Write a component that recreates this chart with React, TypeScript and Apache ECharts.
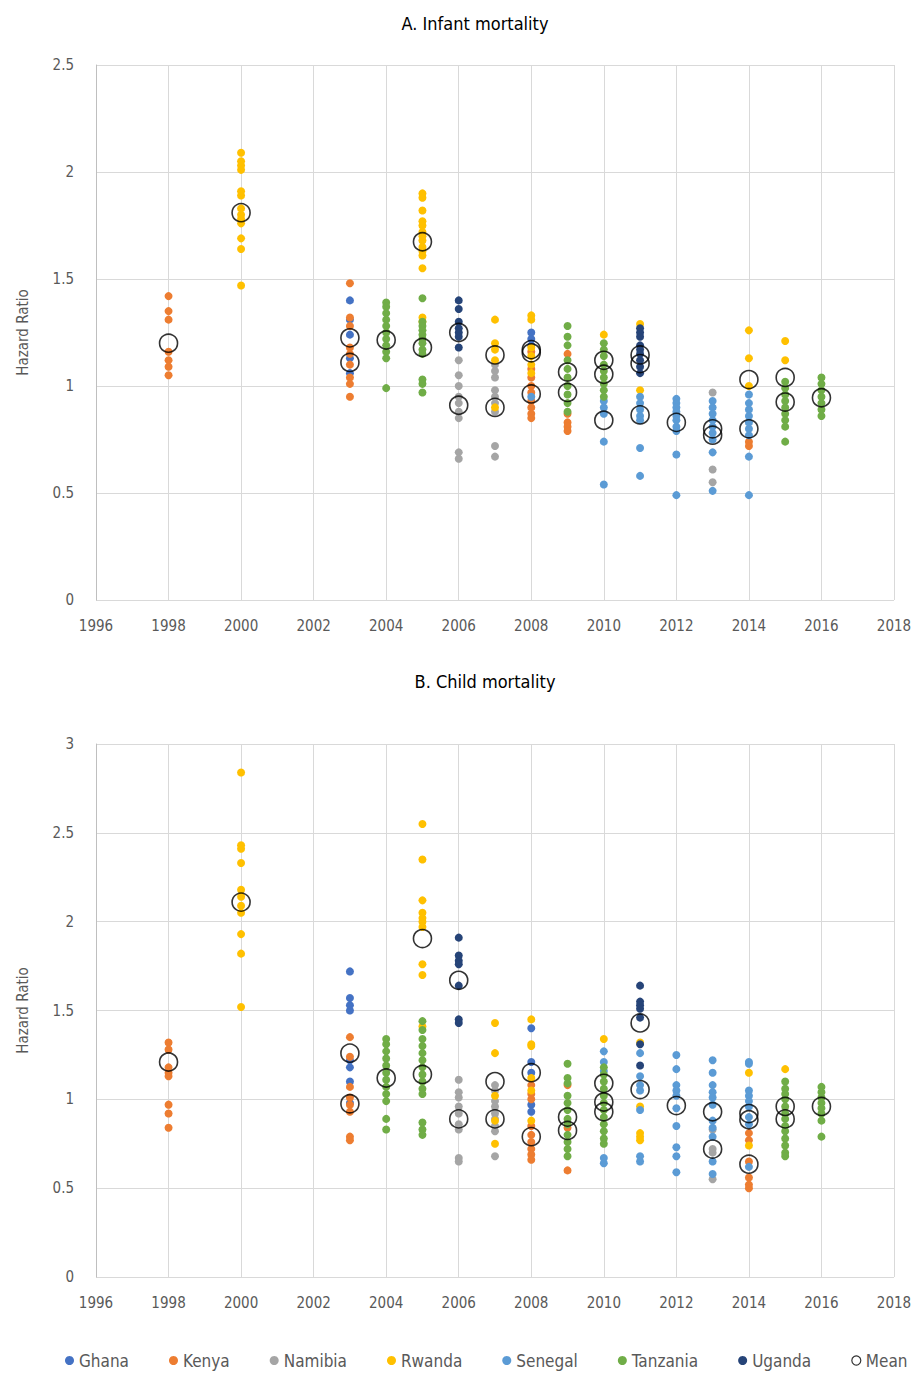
import React, { useEffect, useRef } from "react";
import * as echarts from "echarts";

type Col = [number, number[]][];

const countries = ["Ghana", "Kenya", "Namibia", "Rwanda", "Senegal", "Tanzania", "Uganda"];
const colors = ["#4472C4", "#ED7D31", "#A5A5A5", "#FFC000", "#5B9BD5", "#70AD47", "#264478"];
const yearTicks = [1996, 1998, 2000, 2002, 2004, 2006, 2008, 2010, 2012, 2014, 2016, 2018];

// Panel A: Infant mortality
const ghanaA: Col = [[2003, [1.40, 1.31, 1.24, 1.13, 1.06]], [2008, [1.25, 1.22, 1.19]]];
const kenyaA: Col = [
  [1998, [1.42, 1.35, 1.31, 1.16, 1.12, 1.09, 1.05]],
  [2003, [1.48, 1.32, 1.28, 1.18, 1.15, 1.10, 1.04, 1.01, 0.95]],
  [2008, [1.16, 1.08, 1.04, 1.00, 0.97, 0.93, 0.90, 0.87, 0.85]],
  [2009, [1.15, 0.87, 0.83, 0.81, 0.79]],
  [2014, [0.74, 0.72]],
];
const namibiaA: Col = [
  [2006, [1.12, 1.05, 1.00, 0.95, 0.92, 0.88, 0.85, 0.69, 0.66]],
  [2007, [1.10, 1.07, 1.04, 0.98, 0.95, 0.92, 0.88, 0.72, 0.67]],
  [2013, [0.97, 0.61, 0.55]],
];
const rwandaA: Col = [
  [2000, [2.09, 2.05, 2.03, 2.01, 1.91, 1.89, 1.83, 1.80, 1.78, 1.76, 1.69, 1.64, 1.47]],
  [2005, [1.90, 1.88, 1.82, 1.77, 1.75, 1.72, 1.70, 1.68, 1.65, 1.63, 1.61, 1.55, 1.32, 1.30]],
  [2007, [1.31, 1.20, 1.17, 1.12, 0.90]],
  [2008, [1.33, 1.31, 1.18, 1.14, 1.10, 1.06]],
  [2010, [1.24]],
  [2011, [1.29, 0.98]],
  [2014, [1.26, 1.13, 1.00]],
  [2015, [1.21, 1.12]],
];
const senegalA: Col = [
  [2008, [0.95]],
  [2010, [0.93, 0.90, 0.87, 0.74, 0.54]],
  [2011, [0.95, 0.92, 0.89, 0.86, 0.84, 0.71, 0.58]],
  [2012, [0.94, 0.92, 0.90, 0.88, 0.86, 0.84, 0.81, 0.79, 0.68, 0.49]],
  [2013, [0.93, 0.90, 0.87, 0.84, 0.81, 0.78, 0.75, 0.69, 0.51]],
  [2014, [0.96, 0.92, 0.89, 0.86, 0.83, 0.80, 0.77, 0.67, 0.49]],
];
const tanzaniaA: Col = [
  [2004, [1.39, 1.37, 1.34, 1.31, 1.28, 1.25, 1.22, 1.19, 1.16, 1.13, 0.99]],
  [2005, [1.41, 1.30, 1.28, 1.26, 1.24, 1.22, 1.20, 1.17, 1.15, 1.03, 1.01, 0.97]],
  [2009, [1.28, 1.23, 1.19, 1.12, 1.08, 1.04, 1.00, 0.96, 0.92, 0.88]],
  [2010, [1.20, 1.17, 1.14, 1.10, 1.07, 1.04, 1.01, 0.98, 0.95]],
  [2015, [1.02, 0.99, 0.96, 0.93, 0.90, 0.87, 0.84, 0.81, 0.74]],
  [2016, [1.04, 1.01, 0.98, 0.95, 0.92, 0.89, 0.86]],
];
const ugandaA: Col = [
  [2006, [1.40, 1.36, 1.30, 1.27, 1.25, 1.23, 1.18]],
  [2011, [1.27, 1.25, 1.23, 1.19, 1.17, 1.15, 1.12, 1.09, 1.06]],
];
const meanA: Col = [
  [1998, [1.20]], [2000, [1.81]], [2003, [1.225, 1.11]], [2004, [1.215]],
  [2005, [1.674, 1.18]], [2006, [1.25, 0.91]], [2007, [1.145, 0.90]],
  [2008, [1.17, 1.155, 0.963]], [2009, [1.065, 0.97]], [2010, [1.12, 1.055, 0.84]],
  [2011, [1.145, 1.105, 0.865]], [2012, [0.83]], [2013, [0.80, 0.77]],
  [2014, [1.03, 0.80]], [2015, [1.04, 0.925]], [2016, [0.945]],
];

// Panel B: Child mortality
const ghanaB: Col = [
  [2003, [1.72, 1.57, 1.53, 1.50, 1.22, 1.18, 1.10, 0.98]],
  [2008, [1.40, 1.21, 1.15, 0.97, 0.93]],
];
const kenyaB: Col = [
  [1998, [1.32, 1.28, 1.18, 1.15, 1.13, 0.97, 0.92, 0.84]],
  [2003, [1.35, 1.24, 1.07, 1.01, 0.97, 0.93, 0.79, 0.77]],
  [2008, [1.08, 1.03, 1.00, 0.85, 0.80, 0.76, 0.72, 0.69, 0.66]],
  [2009, [1.08, 0.84, 0.60]],
  [2014, [0.81, 0.77, 0.65, 0.56, 0.52, 0.50]],
];
const namibiaB: Col = [
  [2006, [1.11, 1.04, 1.01, 0.96, 0.92, 0.86, 0.83, 0.67, 0.65]],
  [2007, [1.08, 1.05, 0.99, 0.96, 0.92, 0.89, 0.85, 0.82, 0.68]],
  [2013, [0.83, 0.72, 0.70, 0.55]],
];
const rwandaB: Col = [
  [2000, [2.84, 2.43, 2.41, 2.33, 2.18, 2.14, 2.09, 2.05, 1.93, 1.82, 1.52]],
  [2005, [2.55, 2.35, 2.12, 2.05, 2.02, 2.00, 1.97, 1.76, 1.70, 1.41]],
  [2007, [1.43, 1.26, 1.02, 0.88, 0.75]],
  [2008, [1.45, 1.31, 1.30, 1.12, 1.05, 0.88]],
  [2010, [1.34]],
  [2011, [1.32, 0.96, 0.81, 0.79, 0.77]],
  [2014, [1.15, 0.74]],
  [2015, [1.17]],
];
const senegalB: Col = [
  [2010, [1.27, 1.21, 1.16, 0.67, 0.64]],
  [2011, [1.26, 1.13, 1.08, 1.05, 0.94, 0.68, 0.65]],
  [2012, [1.25, 1.17, 1.08, 1.05, 1.02, 0.95, 0.85, 0.73, 0.68, 0.59]],
  [2013, [1.22, 1.15, 1.08, 1.04, 1.01, 0.97, 0.88, 0.84, 0.79, 0.65, 0.58]],
  [2014, [1.21, 1.20, 1.05, 1.02, 0.99, 0.96, 0.90, 0.86, 0.62]],
];
const tanzaniaB: Col = [
  [2004, [1.34, 1.31, 1.27, 1.23, 1.19, 1.15, 1.11, 1.07, 1.03, 0.99, 0.89, 0.83]],
  [2005, [1.44, 1.39, 1.34, 1.30, 1.26, 1.22, 1.18, 1.14, 1.10, 1.06, 1.03, 0.87, 0.83, 0.80]],
  [2009, [1.20, 1.12, 1.09, 1.02, 0.98, 0.94, 0.89, 0.86, 0.80, 0.76, 0.72, 0.68]],
  [2010, [1.18, 1.14, 1.10, 1.06, 1.02, 0.98, 0.94, 0.90, 0.86, 0.82, 0.78, 0.75]],
  [2015, [1.10, 1.06, 1.03, 1.00, 0.96, 0.92, 0.89, 0.85, 0.82, 0.78, 0.74, 0.70, 0.68]],
  [2016, [1.07, 1.04, 1.01, 0.98, 0.95, 0.92, 0.88, 0.79]],
];
const ugandaB: Col = [
  [2006, [1.91, 1.81, 1.78, 1.76, 1.64, 1.45, 1.43]],
  [2011, [1.64, 1.55, 1.53, 1.51, 1.46, 1.31, 1.19]],
];
const meanB: Col = [
  [1998, [1.21]], [2000, [2.11]], [2003, [1.26, 0.975]], [2004, [1.12]],
  [2005, [1.905, 1.14]], [2006, [1.67, 0.89]], [2007, [1.10, 0.89]],
  [2008, [1.15, 0.79]], [2009, [0.90, 0.825]], [2010, [1.09, 0.985, 0.93]],
  [2011, [1.43, 1.055]], [2012, [0.965]], [2013, [0.93, 0.72]],
  [2014, [0.92, 0.885, 0.635]], [2015, [0.96, 0.89]], [2016, [0.96]],
];

const panelA = [ghanaA, kenyaA, namibiaA, rwandaA, senegalA, tanzaniaA, ugandaA];
const panelB = [ghanaB, kenyaB, namibiaB, rwandaB, senegalB, tanzaniaB, ugandaB];

const flat = (c: Col) => c.flatMap(([yr, vs]) => vs.map((v) => [yr, v]));

const FONT = "'Liberation Sans Narrow', 'DejaVu Sans Condensed', 'Open Sans', sans-serif";
const GRAY = "#595959";

export default function App() {
  const ref = useRef<HTMLDivElement>(null);
  useEffect(() => {
    if (!ref.current) return;
    const chart = echarts.init(ref.current, undefined, { renderer: "svg" });
    const xAxisBase = (gi: number) => ({
      type: "value",
      gridIndex: gi,
      min: yearTicks[0],
      max: yearTicks[yearTicks.length - 1],
      interval: 2,
      axisLine: { show: false },
      axisTick: { show: false },
      splitLine: { show: true, lineStyle: { color: "#D9D9D9", width: 1 } },
      axisLabel: {
        color: GRAY,
        fontSize: 15,
        fontFamily: FONT,
        margin: 18,
        formatter: (v: number) => String(v),
      },
    });
    const yAxisBase = (gi: number, max: number) => ({
      type: "value",
      gridIndex: gi,
      min: 0,
      max,
      interval: 0.5,
      name: "Hazard Ratio",
      nameLocation: "middle",
      nameGap: 66,
      nameTextStyle: { color: GRAY, fontSize: 15, fontFamily: FONT },
      axisLine: { show: true, lineStyle: { color: "#BFBFBF" } },
      axisTick: { show: false },
      splitLine: { show: true, lineStyle: { color: "#D9D9D9", width: 1 } },
      axisLabel: { color: GRAY, fontSize: 15, fontFamily: FONT, margin: 22 },
    });
    const series: any[] = [];
    [panelA, panelB].forEach((panel, gi) => {
      panel.forEach((col, i) => {
        series.push({
          type: "scatter",
          name: countries[i],
          xAxisIndex: gi,
          yAxisIndex: gi,
          symbol: "circle",
          symbolSize: 8,
          itemStyle: { color: colors[i], opacity: 1 },
          data: flat(col),
          z: 2,
        });
      });
      series.push({
        type: "scatter",
        name: "Mean",
        xAxisIndex: gi,
        yAxisIndex: gi,
        symbol: "circle",
        symbolSize: 18,
        itemStyle: { color: "rgba(0,0,0,0)", borderColor: "#000", borderWidth: 1.6 },
        data: flat(gi === 0 ? meanA : meanB),
        z: 3,
      });
    });
    chart.setOption({
      animation: false,
      backgroundColor: "#fff",
      title: [
        {
          text: "A. Infant mortality",
          left: 470,
          top: 9,
          textAlign: "center",
          textStyle: { color: "#000", fontSize: 18, fontWeight: "normal", fontFamily: FONT },
        },
        {
          text: "B. Child mortality",
          left: 480,
          top: 667,
          textAlign: "center",
          textStyle: { color: "#000", fontSize: 18, fontWeight: "normal", fontFamily: FONT },
        },
      ],
      grid: [
        { left: 96, right: 27, top: 65, height: 535 },
        { left: 96, right: 27, top: 744, height: 533 },
      ],
      xAxis: [xAxisBase(0), xAxisBase(1)],
      yAxis: [yAxisBase(0, 2.5), yAxisBase(1, 3)],
      legend: {
        top: 1347,
        left: 60,
        itemGap: 40,
        itemWidth: 9,
        itemHeight: 9,
        textStyle: { color: GRAY, fontSize: 17, fontFamily: FONT },
        data: [
          ...countries.map((c, i) => ({ name: c, icon: "circle", itemStyle: { color: colors[i] } })),
          {
            name: "Mean",
            icon: "circle",
            itemStyle: { color: "rgba(0,0,0,0)", borderColor: "#000", borderWidth: 1.2 },
          },
        ],
      },
      series,
    });
    return () => chart.dispose();
  }, []);
  return (
    <div
      ref={ref}
      style={{ position: "absolute", left: 0, top: 0, width: 921, height: 1373 }}
    />
  );
}
